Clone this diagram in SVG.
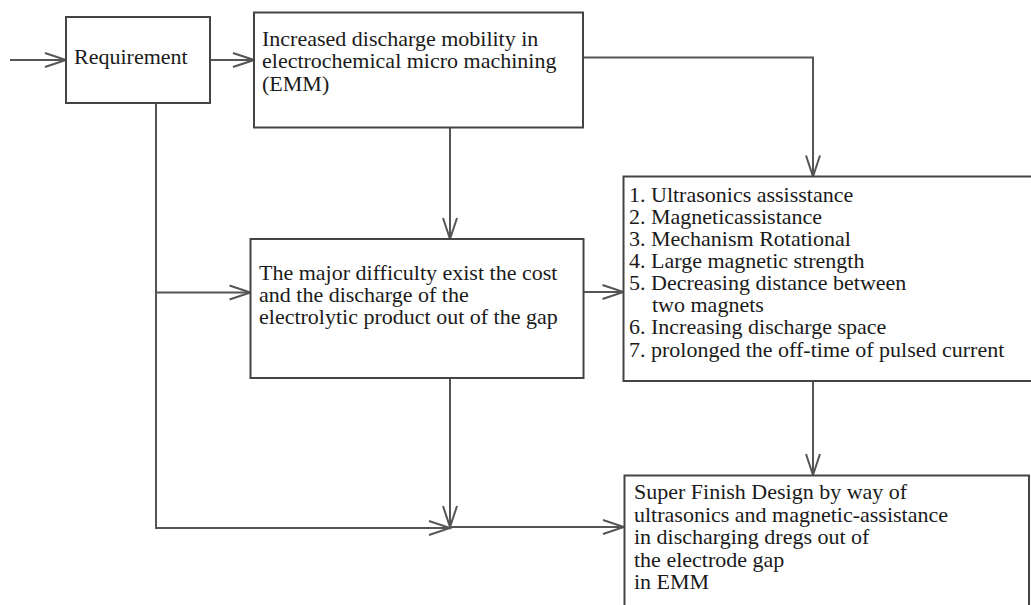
<svg xmlns="http://www.w3.org/2000/svg" width="1031" height="605" viewBox="0 0 1031 605">
<style>
.box{fill:#fff;stroke:#444;stroke-width:2}
.t{font-family:"Liberation Serif","Times New Roman",serif;font-size:22px;fill:#1a1a1a}
.c{fill:none;stroke:#555;stroke-width:2}
</style>
<defs>
<marker id="ah" markerUnits="userSpaceOnUse" markerWidth="26" markerHeight="20" viewBox="-23 -10 26 20" refX="0" refY="0" orient="auto">
<path d="M-21,-7 L0,0 L-21,7" fill="none" stroke="#555" stroke-width="2"/>
</marker>
</defs>
<rect width="1031" height="605" fill="#fff"/>
<g id="connectors">
<path class="c" d="M10,60 H66" marker-end="url(#ah)"/>
<path class="c" d="M210,60 H254" marker-end="url(#ah)"/>
<path class="c" d="M583,57.5 H813 V176.5" marker-end="url(#ah)"/>
<path class="c" d="M450,128 V239" marker-end="url(#ah)"/>
<path class="c" d="M156,103 V528 H450" marker-end="url(#ah)"/>
<path class="c" d="M156,292.5 H250.5" marker-end="url(#ah)"/>
<path class="c" d="M583,292 H623.5" marker-end="url(#ah)"/>
<path class="c" d="M450,378 V527" marker-end="url(#ah)"/>
<path class="c" d="M450,527 H624" marker-end="url(#ah)"/>
<path class="c" d="M813,381 V475" marker-end="url(#ah)"/>
</g>
<g id="requirement">
<rect class="box" x="66" y="17" width="144" height="86"/>
<text class="t" x="74" y="64">Requirement</text>
</g>
<g id="increased">
<rect class="box" x="254" y="12.5" width="329" height="115"/>
<text class="t" x="262" y="45.7">Increased discharge mobility in</text>
<text class="t" x="262" y="68">electrochemical micro machining</text>
<text class="t" x="262" y="90.5">(EMM)</text>
</g>
<g id="difficulty">
<rect class="box" x="250.5" y="239" width="333" height="139"/>
<text class="t" x="259" y="280">The major difficulty exist the cost</text>
<text class="t" x="259" y="302">and the discharge of the</text>
<text class="t" x="259" y="324">electrolytic product out of the gap</text>
</g>
<g id="methods">
<rect class="box" x="623.5" y="176.5" width="415" height="204.5"/>
<text class="t" x="629" y="201.7">1. Ultrasonics assisstance</text>
<text class="t" x="629" y="224">2. Magneticassistance</text>
<text class="t" x="629" y="246">3. Mechanism Rotational</text>
<text class="t" x="629" y="267.8">4. Large magnetic strength</text>
<text class="t" x="629" y="289.7">5. Decreasing distance between</text>
<text class="t" x="652" y="311.8">two magnets</text>
<text class="t" x="629" y="334.2">6. Increasing discharge space</text>
<text class="t" x="629" y="356.6">7. prolonged the off-time of pulsed current</text>
</g>
<g id="design">
<rect class="box" x="624.5" y="475.5" width="404.5" height="150"/>
<text class="t" x="634" y="499.3">Super Finish Design by way of</text>
<text class="t" x="634" y="521.7">ultrasonics and magnetic-assistance</text>
<text class="t" x="634" y="544.3">in discharging dregs out of</text>
<text class="t" x="634" y="566.7">the electrode gap</text>
<text class="t" x="634" y="589.3">in EMM</text>
</g>
</svg>
